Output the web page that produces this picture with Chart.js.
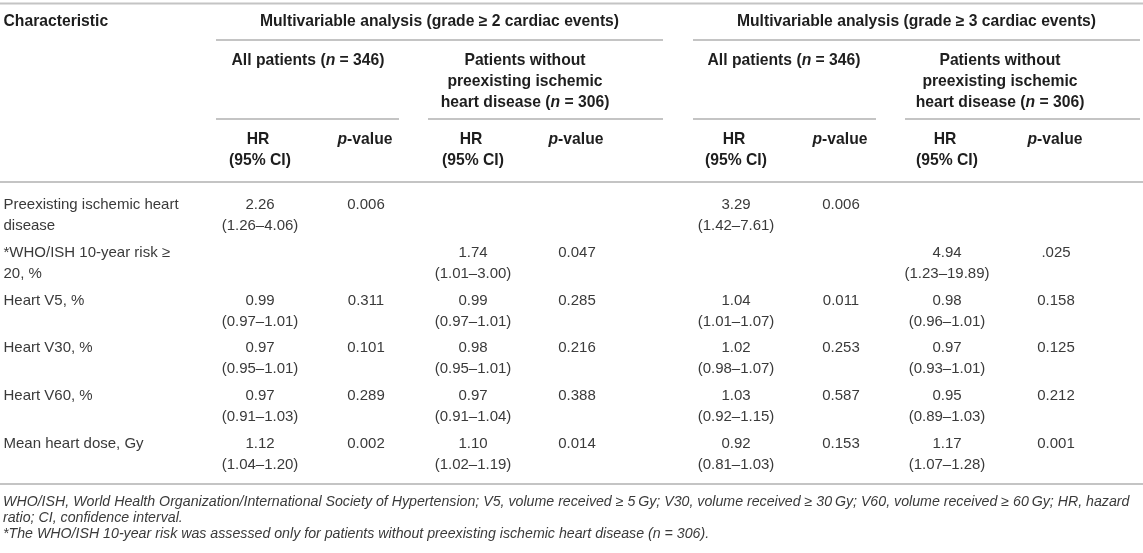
<!DOCTYPE html>
<html>
<head>
<meta charset="utf-8">
<script src="https://cdn.jsdelivr.net/npm/chart.js@4"></script>
<style>
  html, body { margin: 0; padding: 0; background: #fff; }
  #wrap { position: relative; width: 1143px; height: 553px; }
</style>
</head>
<body>
<div id="wrap"><canvas id="tableChart"></canvas></div>
<script>
(function() {
    // Row labels (first column), multi-line as printed
    var characteristics = [
        ["Preexisting ischemic heart", "disease"],
        ["*WHO/ISH 10-year risk \u2265", "20, %"],
        ["Heart V5, %"],
        ["Heart V30, %"],
        ["Heart V60, %"],
        ["Mean heart dose, Gy"]
    ];

    // Grade >= 2, all patients (n = 346)
    var hrG2All = [2.26, null, 0.99, 0.97, 0.97, 1.12];
    var ciG2All = [[1.26, 4.06], null, [0.97, 1.01], [0.95, 1.01], [0.91, 1.03], [1.04, 1.20]];
    var pG2All = ["0.006", null, "0.311", "0.101", "0.289", "0.002"];

    // Grade >= 2, patients without preexisting ischemic heart disease (n = 306)
    var hrG2NoIhd = [null, 1.74, 0.99, 0.98, 0.97, 1.10];
    var ciG2NoIhd = [null, [1.01, 3.00], [0.97, 1.01], [0.95, 1.01], [0.91, 1.04], [1.02, 1.19]];
    var pG2NoIhd = [null, "0.047", "0.285", "0.216", "0.388", "0.014"];

    // Grade >= 3, all patients (n = 346)
    var hrG3All = [3.29, null, 1.04, 1.02, 1.03, 0.92];
    var ciG3All = [[1.42, 7.61], null, [1.01, 1.07], [0.98, 1.07], [0.92, 1.15], [0.81, 1.03]];
    var pG3All = ["0.006", null, "0.011", "0.253", "0.587", "0.153"];

    // Grade >= 3, patients without preexisting ischemic heart disease (n = 306)
    var hrG3NoIhd = [null, 4.94, 0.98, 0.97, 0.95, 1.17];
    var ciG3NoIhd = [null, [1.23, 19.89], [0.96, 1.01], [0.93, 1.01], [0.89, 1.03], [1.07, 1.28]];
    var pG3NoIhd = [null, ".025", "0.158", "0.125", "0.212", "0.001"];

    var footnotes = [
        "WHO/ISH, World Health Organization/International Society of Hypertension; V5, volume received \u2265 5\u2009Gy; V30, volume received \u2265 30\u2009Gy; V60, volume received \u2265 60\u2009Gy; HR, hazard",
        "ratio; CI, confidence interval.",
        "*The WHO/ISH 10-year risk was assessed only for patients without preexisting ischemic heart disease (n = 306)."
    ];

    // ---- layout (pixels) ----
    var FONT = '"Liberation Sans", Arial, Helvetica, sans-serif';
    var colX = [3.5, 260, 366, 473, 577, 736, 841, 947, 1056];
    var lineGap = 21;
    var ruleColor = "#c4c4c4";
    var headColor = "#1e1e1e";
    var bodyColor = "#3a3a3a";

    var rowKeys = characteristics.map(function (l) { return l.join(" "); });

    function hrCell(hr, ci) {
        return hr.map(function (v, i) {
            if (v === null) return [];
            return [v.toFixed(2), "(" + ci[i][0].toFixed(2) + "\u2013" + ci[i][1].toFixed(2) + ")"];
        });
    }
    function pCell(p) {
        return p.map(function (v) { return v === null ? [] : [v]; });
    }

    var columns = [
        { cells: characteristics, align: "left" },
        { cells: hrCell(hrG2All, ciG2All) },
        { cells: pCell(pG2All) },
        { cells: hrCell(hrG2NoIhd, ciG2NoIhd) },
        { cells: pCell(pG2NoIhd) },
        { cells: hrCell(hrG3All, ciG3All) },
        { cells: pCell(pG3All) },
        { cells: hrCell(hrG3NoIhd, ciG3NoIhd) },
        { cells: pCell(pG3NoIhd) }
    ];

    var datasets = columns.map(function (col, c) {
        return {
            data: rowKeys.map(function (k) { return { x: colX[c], y: k }; }),
            cellText: col.cells,
            align: col.align || "center",
            pointRadius: 0,
            pointHoverRadius: 0
        };
    });

    // draw mixed upright/italic text; segs = [[text, italic], ...]
    function rich(ctx, segs, x, y, align, bold, size) {
        var w = 0;
        segs.forEach(function (s) {
            ctx.font = (s[1] ? "italic " : "") + (bold ? "bold " : "") + size + "px " + FONT;
            w += ctx.measureText(s[0]).width;
        });
        var cx = align === "left" ? x : x - w / 2;
        ctx.textAlign = "left";
        segs.forEach(function (s) {
            ctx.font = (s[1] ? "italic " : "") + (bold ? "bold " : "") + size + "px " + FONT;
            ctx.fillText(s[0], cx, y);
            cx += ctx.measureText(s[0]).width;
        });
    }

    function rule(ctx, x0, x1, y) {
        ctx.beginPath();
        ctx.moveTo(x0, y);
        ctx.lineTo(x1, y);
        ctx.stroke();
    }

    var tablePlugin = {
        id: "tableText",
        afterDatasetsDraw: function (chart) {
            var ctx = chart.ctx;
            ctx.save();
            ctx.textBaseline = "middle";

            // rules
            ctx.strokeStyle = ruleColor;
            ctx.lineWidth = 2;
            rule(ctx, 0, 1143, 3.5);
            rule(ctx, 216, 663, 40);
            rule(ctx, 693, 1140, 40);
            rule(ctx, 216, 399, 119);
            rule(ctx, 428, 663, 119);
            rule(ctx, 693, 876, 119);
            rule(ctx, 905, 1140, 119);
            rule(ctx, 0, 1143, 182);
            rule(ctx, 0, 1143, 484);

            // header
            ctx.fillStyle = headColor;
            var hs = 15.7;
            rich(ctx, [["Characteristic", false]], colX[0], 22, "left", true, hs);
            rich(ctx, [["Multivariable analysis (grade \u2265 2 cardiac events)", false]], 439.5, 22, "center", true, hs);
            rich(ctx, [["Multivariable analysis (grade \u2265 3 cardiac events)", false]], 916.5, 22, "center", true, hs);
            [308, 784].forEach(function (x) {
                rich(ctx, [["All patients (", false], ["n", true], [" = 346)", false]], x, 61, "center", true, hs);
            });
            [525, 1000].forEach(function (x) {
                rich(ctx, [["Patients without", false]], x, 61, "center", true, hs);
                rich(ctx, [["preexisting ischemic", false]], x, 82, "center", true, hs);
                rich(ctx, [["heart disease (", false], ["n", true], [" = 306)", false]], x, 102.5, "center", true, hs);
            });
            [1, 3, 5, 7].forEach(function (c) {
                rich(ctx, [["HR", false]], colX[c] - 2, 139.5, "center", true, hs);
                rich(ctx, [["(95% CI)", false]], colX[c], 160.5, "center", true, hs);
                rich(ctx, [["p", true], ["-value", false]], colX[c + 1] - 1, 139.5, "center", true, hs);
            });

            // body cells at the points placed by the scales
            ctx.fillStyle = bodyColor;
            ctx.font = "15px " + FONT;
            chart.data.datasets.forEach(function (ds, di) {
                var meta = chart.getDatasetMeta(di);
                ctx.textAlign = ds.align;
                meta.data.forEach(function (pt, i) {
                    var lines = ds.cellText[i] || [];
                    lines.forEach(function (t, k) {
                        ctx.fillText(t, pt.x, pt.y - lineGap / 2 + k * lineGap);
                    });
                });
            });

            // footnotes
            ctx.fillStyle = bodyColor;
            rich(ctx, [[footnotes[0], true]], 3, 502, "left", false, 14.2);
            rich(ctx, [[footnotes[1], true]], 3, 518, "left", false, 14.2);
            rich(ctx, [[footnotes[2], true]], 3, 534, "left", false, 14.2);
            ctx.restore();
        }
    };

    var ctx = document.getElementById("tableChart").getContext("2d");
    new Chart(ctx, {
        type: "scatter",
        data: { datasets: datasets },
        options: {
            responsive: true,
            maintainAspectRatio: false,
            animation: false,
            events: [],
            layout: { padding: { top: 192, bottom: 75, left: 0, right: 0 } },
            plugins: {
                legend: { display: false },
                tooltip: { enabled: false }
            },
            scales: {
                x: { type: "linear", min: 0, max: 1143, display: false },
                y: { type: "category", labels: rowKeys, offset: true, display: false }
            }
        },
        plugins: [tablePlugin]
    });
})();
</script>
</body>
</html>
